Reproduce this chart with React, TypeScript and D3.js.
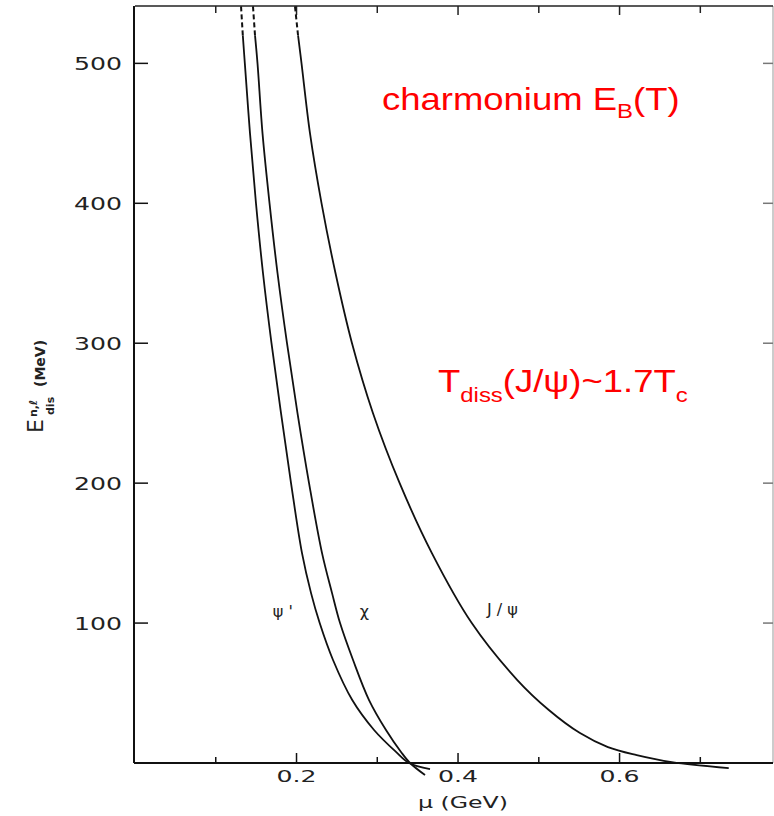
import React from "react";
import * as d3 from "d3";

// ---- data ----
const psiPrimeMu = [0.1313, 0.1335, 0.136, 0.1424, 0.1498, 0.1585, 0.169, 0.1808, 0.1932, 0.2068, 0.218, 0.2287, 0.2452, 0.269, 0.296, 0.3232, 0.3393, 0.3653];
const psiPrimeE = [540.7, 520, 500, 450, 400, 350, 300, 250, 200, 150, 121.4, 100, 73.6, 45, 23.6, 7.9, 0, -4.3];

const chiMu = [0.1461, 0.1486, 0.1517, 0.1579, 0.1666, 0.1765, 0.1882, 0.2012, 0.2155, 0.2316, 0.244, 0.2539, 0.27, 0.2898, 0.3108, 0.3294, 0.3406, 0.3591];
const chiE = [540.7, 520, 500, 450, 400, 350, 300, 250, 200, 150, 121.4, 100, 73.6, 45, 23.6, 7.9, 0, -8.6];

const jpsiMu = [0.1981, 0.2019, 0.2062, 0.2167, 0.231, 0.2483, 0.2687, 0.2947, 0.3277, 0.3676, 0.417, 0.4734, 0.5124, 0.551, 0.5856, 0.6213, 0.6646, 0.7352];
const jpsiE = [540.7, 520, 500, 450, 400, 350, 300, 250, 200, 150, 100, 59.3, 37.9, 21.4, 11.4, 5.7, 0.7, -3.6];

const yTicks = [100, 200, 300, 400, 500];
const xMajorTicks = [0.2, 0.4, 0.6];
const xMinorTicks = [0.1, 0.3, 0.5, 0.7];
const curveLabels = [
  { text: "ψ '", mu: 0.183, e: 104 },
  { text: "χ", mu: 0.284, e: 104 },
  { text: "J / ψ", mu: 0.455, e: 106 },
];

const X_DOMAIN: [number, number] = [0, 0.79];
const Y_DOMAIN: [number, number] = [0, 541];
const DASH_ABOVE = 520;

export default function App() {
  const x = d3.scaleLinear().domain(X_DOMAIN).range([135, 773]);
  const y = d3.scaleLinear().domain(Y_DOMAIN).range([763, 6]);
  const line = d3
    .line<[number, number]>()
    .x((d) => x(d[0]))
    .y((d) => y(d[1]))
    .curve(d3.curveCatmullRom.alpha(0.5));

  const series = [
    { mu: psiPrimeMu, e: psiPrimeE },
    { mu: chiMu, e: chiE },
    { mu: jpsiMu, e: jpsiE },
  ];

  const x0 = x(0);
  const x1 = x(X_DOMAIN[1]);
  const y0 = y(0);
  const yTop = y(Y_DOMAIN[1]);

  return (
    <svg
      width={774}
      height={816}
      style={{ position: "absolute", left: 0, top: 0, background: "#fff" }}
      fontFamily="'DejaVu Sans', sans-serif"
    >
      <rect x={0} y={0} width={774} height={816} fill="#fff" />
      {/* frame */}
      <line x1={x1} y1={yTop} x2={x1} y2={y0} stroke="#999" strokeWidth={1} />
      <line x1={x0} y1={yTop} x2={x1} y2={yTop} stroke="#222" strokeWidth={1.5} />
      <line x1={x0 - 1} y1={yTop} x2={x0 - 1} y2={y0} stroke="#111" strokeWidth={2} />
      <line x1={x0 - 1} y1={y0} x2={x1} y2={y0} stroke="#111" strokeWidth={2} />

      {/* y ticks left and right */}
      {yTicks.map((t) => (
        <g key={"yt" + t}>
          <line x1={x0 - 1} x2={x0 + 13} y1={y(t)} y2={y(t)} stroke="#111" strokeWidth={1.5} />
          <line x1={x1} x2={x1 - 10} y1={y(t)} y2={y(t)} stroke="#777" strokeWidth={1.5} />
          <text
            x={122}
            y={y(t) + 7}
            textAnchor="end"
            fontSize={18}
            textLength={48}
            lengthAdjust="spacingAndGlyphs"
            fill="#222"
          >
            {t}
          </text>
        </g>
      ))}

      {/* x ticks bottom and top */}
      {xMajorTicks.map((t) => (
        <g key={"xM" + t}>
          <line x1={x(t)} x2={x(t)} y1={y0} y2={y0 - 10} stroke="#111" strokeWidth={1.5} />
          <line x1={x(t)} x2={x(t)} y1={yTop} y2={yTop + 9} stroke="#222" strokeWidth={1.5} />
          <text
            x={x(t) - 20}
            y={782}
            fontSize={16}
            textLength={40}
            lengthAdjust="spacingAndGlyphs"
            fill="#222"
          >
            {t.toFixed(1)}
          </text>
        </g>
      ))}
      {xMinorTicks.map((t) => (
        <g key={"xm" + t}>
          <line x1={x(t)} x2={x(t)} y1={y0} y2={y0 - 6} stroke="#111" strokeWidth={1.5} />
          <line x1={x(t)} x2={x(t)} y1={yTop} y2={yTop + 7} stroke="#222" strokeWidth={1.5} />
        </g>
      ))}

      {/* curves */}
      {series.map((s, i) => {
        const pts: [number, number][] = s.mu.map((m, k) => [m, s.e[k]]);
        const top = pts.filter((p) => p[1] >= DASH_ABOVE);
        const rest = pts.filter((p) => p[1] <= DASH_ABOVE);
        return (
          <g key={"c" + i} fill="none" stroke="#111">
            <path d={line(top) || ""} strokeWidth={2} strokeDasharray="5,3" />
            <path d={line(rest) || ""} strokeWidth={1.8} />
          </g>
        );
      })}

      {/* curve labels */}
      {curveLabels.map((l) => (
        <text key={l.text} x={x(l.mu)} y={y(l.e)} fontSize={16} fill="#222" textAnchor="middle">
          {l.text}
        </text>
      ))}

      {/* x axis title */}
      <text
        x={418}
        y={808}
        fontSize={16}
        textLength={90}
        lengthAdjust="spacingAndGlyphs"
        fill="#222"
      >
        μ (GeV)
      </text>

      {/* y axis title */}
      <g transform="translate(43,385) rotate(-90)" fill="#222" fontWeight="bold">
        <text x={-48} y={0} fontSize={22} fontWeight="normal">E</text>
        <text x={-32} y={-6} fontSize={11}>n,ℓ</text>
        <text x={-30} y={11} fontSize={11}>dis</text>
        <text x={-2} y={2} fontSize={14}>(MeV)</text>
      </g>

      {/* red annotations */}
      <g fontFamily="'Liberation Sans', Arial, sans-serif" fill="#ff0000">
        <g transform="translate(382,110) scale(1.14,1)">
          <text x={0} y={0} fontSize={32}>
            charmonium E
            <tspan fontSize={21} dy={8}>B</tspan>
            <tspan dy={-8}>(T)</tspan>
          </text>
        </g>
        <g transform="translate(438,392) scale(1.14,1)">
          <text x={0} y={0} fontSize={32}>
            T
            <tspan fontSize={21} dy={10}>diss</tspan>
            <tspan dy={-10}>(J/ψ)~1.7T</tspan>
            <tspan fontSize={21} dy={10}>c</tspan>
          </text>
        </g>
      </g>
    </svg>
  );
}
